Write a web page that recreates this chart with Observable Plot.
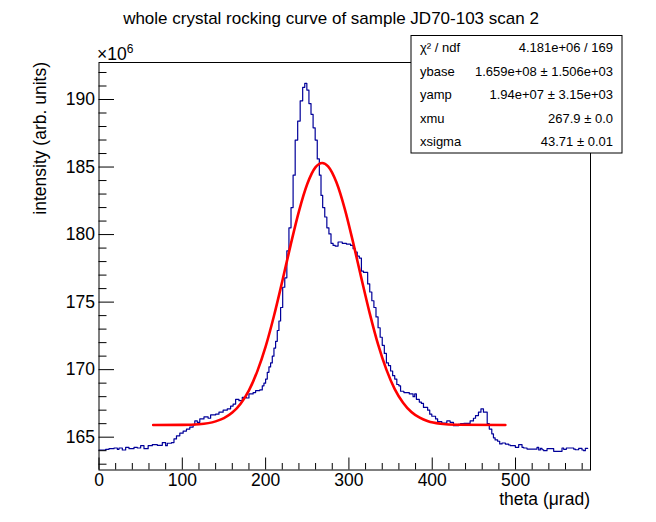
<!DOCTYPE html>
<html><head><meta charset="utf-8">
<script src="https://cdn.jsdelivr.net/npm/d3@7"></script>
<script src="https://cdn.jsdelivr.net/npm/@observablehq/plot@0.6"></script>
<style>body{margin:0;background:#fff}#chart{width:656px;height:522px}</style>
</head><body><div id="chart"></div>
<script>
// histogram levels (bin-edge x in µrad, intensity in 1e6 arb. units)
const histX = [0,8,12,18,22,24,28,32,36,42,46,50,54,59,64,70,76,80,82,87,90,93,97,101,105,109,113,115,118,121,126,131,134,140,144,149,154,158,161,164,168,172,177,180,185,188,193,196,198,200,202,204,206,208,210,212,214,216,218,220.5,223,225.5,228,230.5,233,235.5,238.5,241.5,244.5,247,249.5,252,254.5,257,259.5,262,264.5,266.5,268.5,271,273.5,276,278.5,281,283.5,287,292,297,302,305,307.5,310,312.5,315,317.5,322.5,325,327.5,330,332.5,335,337.5,340,342.5,345,347.5,350,352.5,355,357.5,360,362,366,372.5,377,379,381,384.5,387,389.5,394.5,397,399.5,404,406.5,411.5,417.5,421.5,425.5,431.5,434,438,445.5,449.5,452,455.5,458.5,461.5,466,468.5,471.5,473.5,475.5,478.5,481,483.8,487.8,491.8,493.8,499.8,503.8,507.8,509.8,513.8,525.8,527.8,529.8,531.8,533.8,537.8,545.8,555.8,557.8,561,569.8,571.8,575.8,579.8,581.8,583.8,586.6,590];
const histY = [164.05,164.10,164.15,164.20,164.10,164.20,164.05,164.25,164.15,164.25,164.20,164.37,164.15,164.37,164.45,164.40,164.60,164.37,164.55,164.60,164.87,165.10,165.30,165.45,165.60,165.75,165.90,166.20,166.10,166.35,166.50,166.40,166.65,166.70,166.85,167.00,167.10,167.30,167.45,167.80,167.70,167.95,167.90,168.20,168.30,168.45,168.50,168.80,169.00,169.30,169.80,170.20,170.50,171.00,171.60,172.10,172.90,173.60,174.60,176.10,176.80,178.80,180.50,182.00,184.40,187.00,188.40,189.90,190.90,191.20,190.70,189.70,188.90,187.90,187.00,185.60,184.40,182.90,182.00,181.30,180.50,180.05,179.35,179.20,179.15,179.45,179.35,179.30,179.20,178.95,178.70,178.40,178.25,177.30,177.20,176.35,175.75,175.10,174.60,173.90,173.10,172.40,171.80,171.20,170.50,170.30,169.90,169.55,169.30,168.90,168.80,168.40,168.30,168.20,168.00,168.20,167.80,167.60,167.50,167.20,167.00,166.70,166.55,166.35,166.15,166.05,166.20,166.10,165.85,165.95,166.00,166.02,166.20,166.40,166.60,166.85,167.10,166.85,166.00,165.60,165.25,164.95,164.80,164.70,164.50,164.57,164.49,164.42,164.37,164.25,164.45,164.25,164.20,164.12,164.25,164.05,164.17,164.07,164.00,164.15,163.95,164.20,164.10,164.20,164.12,164.07,164.17,164.05,164.00,164.17,164.17];
// fitted curve
const fitX = [65,100,120,140,150,160,170,180,190,200,210,220,230,240,250,260,267.9,275,285,295,305,315,325,335,345,355,365,375,385,395,410,430,487.8];
const fitY = [165.90,165.91,165.96,166.17,166.41,166.82,167.48,168.47,169.87,171.70,173.97,176.54,179.22,181.72,183.74,184.99,185.30,185.05,183.87,181.91,179.43,176.76,174.17,171.87,170.00,168.56,167.55,166.86,166.44,166.18,166.00,165.92,165.90];
const xTicks = [0,100,200,300,400,500];
const xMinor = [20,40,60,80,120,140,160,180,220,240,260,280,320,340,360,380,420,440,460,480,520,540,560,580];
const yTicks = [165,170,175,180,185,190];
const yMinor = [163,164,166,167,168,169,171,172,173,174,176,177,178,179,181,182,183,184,186,187,188,189,191,192];
const statsLabels = ["χ² / ndf","ybase","yamp","xmu","xsigma"];
const statsValues = ["4.181e+06 / 169","1.659e+08 ± 1.506e+03","1.94e+07 ± 3.15e+03","267.9 ± 0.0","43.71 ± 0.01"];
const titleText = "whole crystal rocking curve of sample JD70-103 scan 2";
const xTitle = "theta (μrad)";
const yTitle = "intensity (arb. units)";

const hist = histX.map((x, i) => ({x, y: histY[i]}));
const fit = fitX.map((x, i) => ({x, y: fitY[i]}));
const font = "'Liberation Sans', Arial, Helvetica, sans-serif";
const fw = 491.5, fh = 407.5;

const plot = Plot.plot({
  width: 656, height: 522,
  marginLeft: 98.5, marginRight: 66, marginTop: 62, marginBottom: 52.5,
  style: {fontFamily: font, background: "white", color: "black"},
  x: {domain: [0, 590]},
  y: {domain: [162.57, 192.74]},
  marks: [
    Plot.line(hist, {x: "x", y: "y", curve: "step-after", stroke: "#000099", strokeWidth: 1.2}),
    Plot.line(fit, {x: "x", y: "y", curve: "monotone-x", stroke: "#ff0000", strokeWidth: 2.6}),
    Plot.tickX(xTicks, {x: d => d, insetTop: fh - 12, stroke: "black"}),
    Plot.tickX(xMinor, {x: d => d, insetTop: fh - 6.5, stroke: "black"}),
    Plot.tickY(yTicks, {y: d => d, insetRight: fw - 15.5, stroke: "black"}),
    Plot.tickY(yMinor, {y: d => d, insetRight: fw - 8, stroke: "black"}),
    Plot.frame({stroke: "black", strokeWidth: 1}),
    Plot.axisX(xTicks, {tickSize: 0, tickPadding: 4, fontSize: 17.5, label: null}),
    Plot.axisY(yTicks, {tickSize: 0, tickPadding: 4, fontSize: 17.5, label: null})
  ]
});
document.getElementById("chart").appendChild(plot);

const svg = d3.select(plot);
svg.append("text").attr("x", 331).attr("y", 24).attr("text-anchor", "middle")
  .attr("font-size", 17).attr("font-family", font).text(titleText);
const mul = svg.append("text").attr("x", 97).attr("y", 60).attr("text-anchor", "start")
  .attr("font-size", 17.5).attr("font-family", font);
mul.append("tspan").text("×10");
mul.append("tspan").attr("dy", -7).attr("font-size", 12).text("6");
svg.append("text").attr("x", 590).attr("y", 505).attr("text-anchor", "end")
  .attr("font-size", 17.5).attr("font-family", font).text(xTitle);
svg.append("text").attr("transform", "translate(46,62) rotate(-90)").attr("text-anchor", "end")
  .attr("font-size", 17.5).attr("font-family", font).text(yTitle);

const box = svg.append("g");
box.append("rect").attr("x", 411).attr("y", 35.5).attr("width", 211).attr("height", 117.5)
  .attr("fill", "white").attr("stroke", "black").attr("stroke-width", 1);
statsLabels.forEach((s, i) => {
  const cy = 47.5 + i * 23.6;
  box.append("text").attr("x", 420).attr("y", cy).attr("dy", "0.35em").attr("text-anchor", "start")
    .attr("font-size", 13).attr("font-family", font).text(s);
  box.append("text").attr("x", 613).attr("y", cy).attr("dy", "0.35em").attr("text-anchor", "end")
    .attr("font-size", 13).attr("font-family", font).text(statsValues[i]);
});
</script></body></html>
